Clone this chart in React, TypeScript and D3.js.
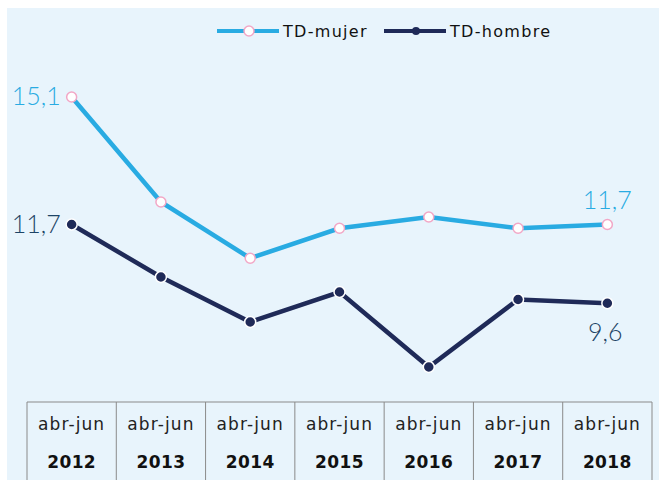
import { useEffect, useRef } from 'react';
import * as d3 from 'd3';

const periods = ['abr-jun', 'abr-jun', 'abr-jun', 'abr-jun', 'abr-jun', 'abr-jun', 'abr-jun'];
const years = ['2012', '2013', '2014', '2015', '2016', '2017', '2018'];
const mujer = [15.1, 12.3, 10.8, 11.6, 11.9, 11.6, 11.7];
const hombre = [11.7, 10.3, 9.1, 9.9, 7.9, 9.7, 9.6];
const seriesNames = ['TD-mujer', 'TD-hombre'];

const W = 659;
const H = 480;
const BG = '#e8f4fc';
const C_MUJER = '#29abe2';
const C_HOMBRE = '#1f2a58';
const FONT = 'Lato, "Open Sans", sans-serif';
const WIDE = '"DejaVu Sans", sans-serif';

export default function App() {
  const ref = useRef<SVGSVGElement>(null);

  useEffect(() => {
    const svg = d3.select(ref.current);
    svg.selectAll('*').remove();

    svg.append('rect')
      .attr('x', 7).attr('y', 8)
      .attr('width', W - 7).attr('height', H - 8)
      .attr('fill', BG);

    const left = 27, right = 652;
    const x = d3.scaleBand<string>()
      .domain(years)
      .range([left, right]);
    const cx = (i: number) => (x(years[i]) as number) + x.bandwidth() / 2;

    const y = d3.scaleLinear()
      .domain([7.9, 15.1])
      .range([367, 97]);

    // table of categories
    const tableTop = 402;
    const table = svg.append('g');
    table.append('line')
      .attr('x1', left).attr('x2', right)
      .attr('y1', tableTop).attr('y2', tableTop)
      .attr('stroke', '#8a8a8a').attr('stroke-width', 1);
    const edges = [...years.map(d => x(d) as number), right];
    table.selectAll('line.v')
      .data(edges)
      .enter().append('line')
      .attr('class', 'v')
      .attr('x1', d => d).attr('x2', d => d)
      .attr('y1', tableTop).attr('y2', H)
      .attr('stroke', '#8a8a8a').attr('stroke-width', 1);
    table.selectAll('text.p')
      .data(periods)
      .enter().append('text')
      .attr('class', 'p')
      .attr('x', (d, i) => cx(i))
      .attr('y', 430)
      .attr('text-anchor', 'middle')
      .attr('font-family', WIDE)
      .attr('font-size', 17)
      .attr('letter-spacing', 1.1)
      .attr('fill', '#222')
      .text(d => d);
    table.selectAll('text.yr')
      .data(years)
      .enter().append('text')
      .attr('class', 'yr')
      .attr('x', (d, i) => cx(i))
      .attr('y', 468)
      .attr('text-anchor', 'middle')
      .attr('font-family', WIDE)
      .attr('font-weight', 'bold')
      .attr('font-size', 17)
      .attr('letter-spacing', 0.4)
      .attr('fill', '#111')
      .text(d => d);

    const line = d3.line<number>()
      .x((d, i) => cx(i))
      .y(d => y(d));

    svg.append('path')
      .datum(mujer)
      .attr('d', line)
      .attr('fill', 'none')
      .attr('stroke', C_MUJER)
      .attr('stroke-width', 4.5);
    svg.append('path')
      .datum(hombre)
      .attr('d', line)
      .attr('fill', 'none')
      .attr('stroke', C_HOMBRE)
      .attr('stroke-width', 4.5);

    svg.selectAll('circle.m')
      .data(mujer)
      .enter().append('circle')
      .attr('class', 'm')
      .attr('cx', (d, i) => cx(i))
      .attr('cy', d => y(d))
      .attr('r', 5)
      .attr('fill', '#fff')
      .attr('stroke', '#f2a7c6')
      .attr('stroke-width', 1.5);
    svg.selectAll('circle.h')
      .data(hombre)
      .enter().append('circle')
      .attr('class', 'h')
      .attr('cx', (d, i) => cx(i))
      .attr('cy', d => y(d))
      .attr('r', 5.5)
      .attr('fill', C_HOMBRE)
      .attr('stroke', '#fff')
      .attr('stroke-width', 1.5);

    const fmt = (v: number) => v.toFixed(1).replace('.', ',');
    const last = years.length - 1;
    const labels = [
      { x: cx(0) - 11, y: y(mujer[0]) + 8, t: fmt(mujer[0]), c: C_MUJER, a: 'end' },
      { x: cx(0) - 11, y: y(hombre[0]) + 8, t: fmt(hombre[0]), c: '#1d4466', a: 'end' },
      { x: cx(last), y: y(mujer[last]) - 16, t: fmt(mujer[last]), c: C_MUJER, a: 'middle' },
      { x: cx(last) - 2, y: y(hombre[last]) + 38, t: fmt(hombre[last]), c: '#1d4466', a: 'middle' },
    ];
    svg.selectAll('text.lbl')
      .data(labels)
      .enter().append('text')
      .attr('class', 'lbl')
      .attr('x', d => d.x)
      .attr('y', d => d.y)
      .attr('text-anchor', d => d.a)
      .attr('font-family', FONT)
      .attr('font-weight', 300)
      .attr('font-size', 25)
      .attr('fill', d => d.c)
      .text(d => d.t);

    // legend
    const legend = svg.append('g');
    const items = [
      { name: seriesNames[0], x0: 217, c: C_MUJER, fill: '#fff', stroke: '#f2a7c6', r: 5 },
      { name: seriesNames[1], x0: 384, c: C_HOMBRE, fill: C_HOMBRE, stroke: 'none', r: 4 },
    ];
    items.forEach(it => {
      legend.append('line')
        .attr('x1', it.x0).attr('x2', it.x0 + 62)
        .attr('y1', 31).attr('y2', 31)
        .attr('stroke', it.c).attr('stroke-width', 4);
      legend.append('circle')
        .attr('cx', it.x0 + 32).attr('cy', 31).attr('r', it.r)
        .attr('fill', it.fill).attr('stroke', it.stroke).attr('stroke-width', 1.5);
      legend.append('text')
        .attr('x', it.x0 + 66).attr('y', 36.5)
        .attr('font-family', WIDE)
        .attr('font-size', 16)
        .attr('letter-spacing', 1.3)
        .attr('fill', '#111')
        .text(it.name);
    });
  }, []);

  return (
    <svg
      ref={ref}
      width={W}
      height={H}
      style={{ display: 'block', position: 'absolute', left: 0, top: 0 }}
    />
  );
}
